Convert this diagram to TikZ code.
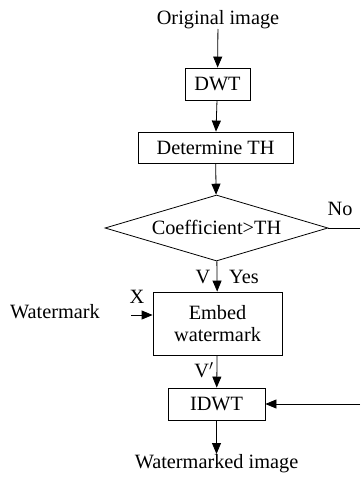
\documentclass[tikz,border=0pt]{standalone}
\usepackage{fontspec}
\setmainfont{Liberation Serif}
\usetikzlibrary{shapes.geometric,arrows.meta}
\begin{document}
\begin{tikzpicture}[x=1pt,y=-1pt,
  font=\fontsize{20.3}{24}\selectfont,
  box/.style={draw,line width=0.8pt,inner sep=0pt,align=center},
  lbl/.style={inner sep=0pt},
  conn/.style={line width=0.8pt,-{Triangle[length=11pt,width=9pt]}},
  plain/.style={line width=0.8pt}]
\useasboundingbox (0,0) rectangle (360,479);
\node[lbl,anchor=south] (orig) at (218,29) {Original image};
\node[box,minimum width=65pt,minimum height=32pt] (dwt) at (217.5,84) {DWT};
\node[box,minimum width=155pt,minimum height=31pt] (det) at (215.5,147.5) {Determine TH};
\node[draw,line width=0.8pt,diamond,aspect=3.4,inner sep=0pt,minimum width=223pt,minimum height=66pt] (dia) at (216.5,228) {};
\node[lbl] (diatext) at (216.5,227) {Coefficient>TH};
\node[box,minimum width=129pt,minimum height=63pt] (embed) at (217.5,323.5) {Embed\\[-2pt]watermark};
\node[box,minimum width=97pt,minimum height=32pt] (idwt) at (216.5,404) {IDWT};
\node[lbl,anchor=north] (wimg) at (216.5,454) {Watermarked image};
\node[lbl] (wm) at (55,312) {Watermark};
\node[lbl] (xl) at (137,297) {X};
\node[lbl] (vl) at (203,277) {V};
\node[lbl] (yes) at (244,277) {Yes};
\node[lbl] (vp) at (204,370) {V$'$};
\node[lbl] (no) at (340,209) {No};
\coordinate (xin) at (131,315);
\coordinate (noend) at (360,228);
\coordinate (back) at (360,404);
\draw[conn] (orig) -- (dwt);
\draw[conn] (dwt) -- (det);
\draw[conn] (det) -- (dia);
\draw[conn] (dia) -- (embed);
\draw[conn] (embed) -- (idwt);
\draw[conn] (idwt) -- (wimg);
\draw[conn] (xin) -- (xin -| embed.west);
\draw[plain] (dia.east) -- (noend);
\draw[conn] (back) -- (idwt.east);
\end{tikzpicture}
\end{document}
